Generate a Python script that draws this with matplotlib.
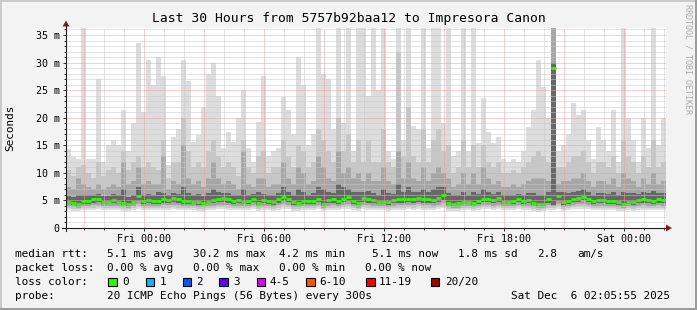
import matplotlib
matplotlib.use("Agg")
import matplotlib.pyplot as plt
import matplotlib.dates as mdates
from matplotlib.ticker import MultipleLocator, FuncFormatter
from matplotlib.patches import Polygon, Rectangle
from datetime import datetime, timedelta

# ---------------- data (15-minute bins, 30 hours) ----------------
start_time = datetime(2025, 12, 4, 20, 6)
bin_minutes = 15
n_bins = 120

median_ms = [4.8,4.6,4.4,4.9,4.9,5.2,5.3,4.8,4.8,5.1,
             4.8,4.6,4.4,4.8,5.8,4.9,5.0,4.9,4.9,5.2,
             5.1,5.4,5.2,4.9,4.9,4.8,4.7,4.6,4.8,5.0,
             5.3,5.4,5.2,4.9,5.0,4.8,4.9,5.3,4.6,5.0,
             4.9,4.7,5.2,5.6,5.3,4.7,4.6,4.9,4.9,4.9,
             5.3,4.4,5.1,5.2,4.9,5.3,5.6,4.9,4.5,5.4,
             5.2,5.0,4.8,4.8,4.7,5.0,5.2,5.2,5.3,5.2,
             5.5,5.2,5.2,5.1,5.4,5.9,4.6,4.4,4.5,4.8,
             4.8,4.6,4.9,5.3,5.3,5.1,5.4,4.8,4.8,4.9,
             5.3,4.9,5.0,4.6,4.3,4.4,5.2,29.0,5.8,4.7,
             4.9,5.3,5.5,5.7,5.3,4.9,5.1,5.1,4.9,4.9,
             4.7,4.4,4.8,4.7,5.1,5.2,5.1,4.9,5.2,5.0]

smoke_max = [14.4,12.9,12.5,37,12.5,12.5,27,12,15,16,
             15,21.4,14,19,33.5,21,30.5,26,31,27.5,
             11.5,16.5,18,30.5,26.6,15.6,16.8,22,28,30,
             24,14.5,17.5,15.6,20,25,14.5,12,19.3,27.5,
             13,14,14.5,23.8,21.4,17,31,26,15,17,
             37,28,27,18,37,19,37,14,37,37,
             24,37,25,37,14,12.5,37,16,37,18.5,
             18,37,14.5,37,37,19,37,13,14,37,
             14,37,15.5,23.5,17.5,15.5,16.5,12.5,12,12.5,
             12,14,18.3,21.4,30.5,25.6,20,37,14,15,
             17,22.6,20.5,21.4,16,12.5,18.3,16,14,21.4,
             12,37,20,16,12,20,14.5,37,15,20]

smoke_p90 = [10.5,9.5,11,11.5,10,9,12,9.5,10.5,11,
             10,14,10.5,12,13,11,12,11,10.5,16,
             9,12,12,20,14,11,12,11,14,16,
             13,11,12,11,9.5,16,11,10,13,14,
             10,11,11,16,13,11,15,14,11,12,
             18,16,14,12,20,14,17,12,16,12,
             16,12,12,18,12,11,32,13,22,13,
             12,18,12,16,18,14,15,10,11,16,
             11,15,11,15,12,11,12,10,10,10.5,
             10,11,12,13,14,13,12,37,11,11,
             12,13,13,14,12,10,12,12,11,13,
             10,16,13,12,10,13,11,16,11,12]

smoke_p75 = [7.5,7,9,8,7.5,7,8,7,7.5,8,
             7.5,12,8,8.5,11,8,8.5,8,8,13,
             7,8.5,8,15,9,8,8.5,7.5,9,12,
             9,8,8.5,8,7,14,8,7.5,9,9,
             7.5,8,8,12,9,8,11,10,8,8.5,
             13,11,9,8.5,14,10,11,9,10,8.5,
             10,8.5,8.5,11,8.5,8,14,9,12,9,
             8.5,11,8.5,10,11,10,9,7.5,8,10,
             8,10,8,11,9,8,8.5,7.5,7.5,8,
             7.5,8,8.5,9,9,9,8.5,37,8,8.5,
             8.5,9,9,10,8.5,7.5,8.5,8.5,8,9,
             7.5,10,9,8.5,7.5,9,8,10,8,8.5]

smoke_p60 = [5.8,5.6,6,6,5.9,6,6.2,5.8,5.8,6.2,
             5.9,7,5.6,6,7.5,6,6.2,6,6.5,6.3,
             6,6.3,6.2,7.5,6.3,6,6.2,5.8,6.3,7,
             6.5,6.4,6.3,6,6,7,6,6.2,6.5,6.2,
             6,6,6.3,7.5,6.5,6,7,6.5,6,6.3,
             7.5,7,6.5,6.3,8,7.5,7,6.5,6.5,6.5,
             6.8,6.3,6,7,6.3,6.2,8,6.5,7.5,6.5,
             6.5,7,6.5,7,7.5,7.5,6.3,6,6,6.5,
             6,6.5,6.2,7,6.5,6.2,6.5,6,6,6,
             6.2,6,6.3,6.3,6,6,6.5,30,6.5,6.5,
             6.3,6.5,6.7,7,6.5,6,6.3,6.3,6.2,6.5,
             6,6.5,6.3,6.3,6.2,6.5,6.3,6.8,6.3,6.3]

smoke_p40 = [4.3,4.1,4.0,4.4,4.4,4.6,4.7,4.3,4.3,4.5,
             4.3,4.1,4.0,4.3,4.9,4.4,4.5,4.4,4.4,4.6,
             4.6,4.7,4.6,4.4,4.4,4.3,4.2,4.1,4.3,4.5,
             4.7,4.7,4.6,4.4,4.5,4.3,4.4,4.7,4.1,4.5,
             4.4,4.2,4.6,4.9,4.7,4.2,4.1,4.4,4.4,4.4,
             4.7,4.0,4.5,4.6,4.4,4.7,4.9,4.4,4.1,4.8,
             4.6,4.5,4.3,4.3,4.2,4.5,4.6,4.6,4.7,4.6,
             4.8,4.6,4.6,4.5,4.8,5.1,4.1,4.0,4.1,4.3,
             4.3,4.1,4.4,4.7,4.7,4.5,4.8,4.3,4.3,4.4,
             4.7,4.4,4.5,4.1,3.9,4.0,4.6,4.2,4.9,4.2,
             4.4,4.7,4.8,5.0,4.7,4.4,4.5,4.5,4.4,4.4,
             4.2,4.0,4.3,4.2,4.5,4.6,4.5,4.4,4.6,4.5]

smoke_p25 = [3.9,3.8,3.7,3.9,4.0,4.1,4.2,3.9,3.9,4.0,
             3.9,3.8,3.7,3.9,4.3,4.0,4.0,4.0,3.9,4.1,
             4.1,4.2,4.1,4.0,3.9,3.9,3.8,3.8,3.9,4.0,
             4.2,4.2,4.1,4.0,4.0,3.9,3.9,4.2,3.8,4.0,
             4.0,3.8,4.1,4.3,4.2,3.8,3.8,3.9,4.0,3.9,
             4.2,3.7,4.0,4.1,3.9,4.2,4.3,3.9,3.7,4.2,
             4.1,4.0,3.9,3.9,3.8,4.0,4.1,4.1,4.2,4.1,
             4.3,4.1,4.1,4.0,4.2,4.5,3.8,3.7,3.7,3.9,
             3.9,3.8,3.9,4.2,4.2,4.0,4.2,3.9,3.9,3.9,
             4.2,3.9,4.0,3.8,3.6,3.7,4.1,3.9,4.3,3.8,
             3.9,4.2,4.3,4.4,4.2,3.9,4.0,4.0,3.9,3.9,
             3.8,3.7,3.9,3.8,4.0,4.1,4.0,3.9,4.1,4.0]

smoke_p10 = [3.6,3.5,3.4,3.6,3.6,3.7,3.8,3.6,3.6,3.7,
             3.6,3.5,3.4,3.6,3.9,3.6,3.7,3.6,3.6,3.7,
             3.7,3.8,3.7,3.6,3.6,3.6,3.5,3.5,3.6,3.7,
             3.8,3.8,3.7,3.6,3.7,3.6,3.6,3.8,3.5,3.7,
             3.6,3.5,3.7,3.9,3.8,3.5,3.5,3.6,3.6,3.6,
             3.8,3.4,3.7,3.7,3.6,3.8,3.9,3.6,3.4,3.8,
             3.7,3.7,3.6,3.6,3.5,3.7,3.7,3.7,3.8,3.7,
             3.9,3.7,3.7,3.7,3.8,4.0,3.5,3.4,3.4,3.6,
             3.6,3.5,3.6,3.8,3.8,3.7,3.8,3.6,3.6,3.6,
             3.8,3.6,3.7,3.5,3.3,3.4,3.7,3.6,3.9,3.5,
             3.6,3.8,3.9,3.9,3.8,3.6,3.7,3.7,3.6,3.6,
             3.5,3.4,3.6,3.5,3.7,3.7,3.7,3.6,3.7,3.7]

smoke_min = [3.2,3.1,3.0,3.2,3.2,3.3,3.4,3.2,3.2,3.3,
             3.2,3.1,3.0,3.2,3.5,3.2,3.3,3.2,3.2,3.3,
             3.3,3.4,3.3,3.2,3.2,3.2,3.1,3.1,3.2,3.3,
             3.4,3.4,3.3,3.2,3.3,3.2,3.2,3.4,3.1,3.3,
             3.2,3.1,3.3,3.5,3.4,3.1,3.1,3.2,3.2,3.2,
             3.4,3.0,3.3,3.3,3.2,3.4,3.5,3.2,3.0,3.4,
             3.3,3.3,3.2,3.2,3.1,3.3,3.3,3.3,3.4,3.3,
             3.5,3.3,3.3,3.3,3.4,3.6,3.1,3.0,3.0,3.2,
             3.2,3.1,3.2,3.4,3.4,3.3,3.4,3.2,3.2,3.2,
             3.4,3.2,3.3,3.1,2.9,3.0,3.3,3.2,3.5,3.1,
             3.2,3.4,3.5,3.5,3.4,3.2,3.3,3.3,3.2,3.2,
             3.1,3.0,3.2,3.1,3.3,3.3,3.3,3.2,3.3,3.3]

title = "Last 30 Hours from 5757b92baa12 to Impresora Canon"
legend_rtt = ["median rtt:", "5.1 ms avg", "30.2 ms max", "4.2 ms min",
              "5.1 ms now", "1.8 ms sd", "2.8", "am/s"]
legend_loss = ["packet loss:", "0.00 % avg", "0.00 % max", "0.00 % min", "0.00 % now"]
loss_labels = ["0", "1", "2", "3", "4-5", "6-10", "11-19", "20/20"]
loss_colors = ["#26ff00", "#00b8ff", "#0059ff", "#5e00ff", "#dd00ff",
               "#ff5500", "#ff0000", "#a00000"]
probe_text = "20 ICMP Echo Pings (56 Bytes) every 300s"
stamp_text = "Sat Dec  6 02:05:55 2025"

# ---------------- figure ----------------
MONO = "DejaVu Sans Mono"
W, H = 697, 310
fig = plt.figure(figsize=(W / 100, H / 100), dpi=100, facecolor="#f3f3f3")

px_left, px_right, px_top, px_bottom = 66, 666, 28, 228
ax = fig.add_axes([px_left / W, (H - px_bottom) / H,
                   (px_right - px_left) / W, (px_bottom - px_top) / H])
ax.set_facecolor("white")
for s in ax.spines.values():
    s.set_visible(False)

edges = mdates.date2num([start_time + timedelta(minutes=bin_minutes * i)
                         for i in range(n_bins + 1)])
ax.set_xlim(edges[0], edges[-1])
ymax = (px_bottom - px_top) / (27.57 / 5.0)
ax.set_ylim(0, ymax)

layers = [(smoke_min, smoke_max, "#dddddd"),
          (smoke_p10, smoke_p90, "#c6c6c6"),
          (smoke_p25, smoke_p75, "#a6a6a6"),
          (smoke_p40, smoke_p60, "#686868")]
for z, (lo, hi, col) in enumerate(layers):
    ax.stairs(hi, edges, baseline=lo, fill=True, color=col, lw=0, zorder=1 + z * 0.1)

# grid (drawn above smoke, like RRDtool)
dot = (0, (1, 1))
for v in range(1, 37):
    if v % 5:
        ax.axhline(v, color="#c8c8c8", lw=0.72, ls=dot, zorder=3)
for v in range(5, 37, 5):
    ax.axhline(v, color="#f2a0a0", lw=0.72, ls=dot, zorder=3.1)
hour_loc = mdates.HourLocator()
for t in hour_loc.tick_values(mdates.num2date(edges[0]), mdates.num2date(edges[-1])):
    if edges[0] < t < edges[-1]:
        hr = mdates.num2date(t).hour
        if hr % 3 == 0:
            ax.axvline(t, color="#f2a0a0", lw=0.72, ls=dot, zorder=3.1)
        else:
            ax.axvline(t, color="#c8c8c8", lw=0.72, ls=dot, zorder=3)

# median: horizontal step segments only (as SmokePing draws it)
ax.hlines(median_ms, edges[:-1], edges[1:], color="#26ff00", lw=2.0, zorder=5)

# ticks
ax.xaxis.set_major_locator(mdates.HourLocator(byhour=[0, 6, 12, 18]))
ax.xaxis.set_major_formatter(mdates.DateFormatter("%a %H:%M"))
ax.xaxis.set_minor_locator(mdates.HourLocator())
ax.yaxis.set_major_locator(MultipleLocator(5))
ax.yaxis.set_minor_locator(MultipleLocator(1))
ax.yaxis.set_major_formatter(FuncFormatter(lambda v, p: "0" if v == 0 else f"{int(round(v))} m"))
ax.tick_params(axis="both", which="major", length=2.5, width=0.7, color="#303030",
               labelsize=7.2, direction="out")
ax.tick_params(axis="both", which="minor", length=1.5, width=0.7, color="#303030",
               direction="out")
ax.tick_params(axis="y", pad=2.0)
ax.tick_params(axis="x", pad=1.6)
for lab in ax.get_xticklabels() + ax.get_yticklabels():
    lab.set_family(MONO)

# ---------------- overlay in pixel coordinates ----------------
ov = fig.add_axes([0, 0, 1, 1], zorder=10)
ov.set_xlim(0, W)
ov.set_ylim(H, 0)
ov.axis("off")
ov.patch.set_alpha(0)

# frame
ov.add_patch(Rectangle((0, 0), W, 2, color="#cbcbcb", lw=0))
ov.add_patch(Rectangle((0, 0), 2, H, color="#cbcbcb", lw=0))
ov.add_patch(Rectangle((0, H - 2), W, 2, color="#9c9c9c", lw=0))
ov.add_patch(Rectangle((W - 2, 0), 2, H, color="#9c9c9c", lw=0))

# axes lines and arrows
ov.plot([px_left, px_left], [px_bottom + 3, 24], color="#202020", lw=0.8)
ov.plot([62, 667], [px_bottom, px_bottom], color="#202020", lw=0.8)
ov.add_patch(Polygon([[px_left, 20.5], [px_left - 3.5, 26.5], [px_left + 3.5, 26.5]],
                     closed=True, color="#a01818", lw=0))
ov.add_patch(Polygon([[672, px_bottom], [666, px_bottom - 3.5], [666, px_bottom + 3.5]],
                     closed=True, color="#a01818", lw=0))

# title and y label
ov.text(348.5, 18.5, title, family=MONO, fontsize=9.4, ha="center", va="center")
ov.text(10.5, 128, "Seconds", family=MONO, fontsize=7.9, rotation=90,
        ha="center", va="center")

# watermark
ov.text(688, 4, "RRDTOOL / TOBI OETIKER", family=MONO, fontsize=6.0, color="#aaaaaa",
        rotation=270, ha="center", va="top")

# legend lines
cw = 6.62
x0 = 14.6
def put(col, y, s):
    ov.text(x0 + col * cw, y, s, family=MONO, fontsize=7.9, ha="left", va="center")

rtt_cols = [0, 14, 27, 40, 54, 67, 79, 85]
for c, s in zip(rtt_cols, legend_rtt):
    put(c, 254, s)
loss_cols = [0, 14, 27, 40, 53]
for c, s in zip(loss_cols, legend_loss):
    put(c, 268, s)
put(0, 282, "loss color:")
box_x = [108.3, 145.7, 182.7, 219.3, 256.7, 306.0, 366.0, 430.7]
lab_x = [122.0, 159.3, 196.3, 233.0, 269.3, 319.3, 378.6, 445.3]
for bx, lx, lab, col in zip(box_x, lab_x, loss_labels, loss_colors):
    ov.add_patch(Rectangle((bx, 277.5), 8.5, 8.5, facecolor=col, edgecolor="black", lw=0.8))
    ov.text(lx, 282, lab, family=MONO, fontsize=7.9, ha="left", va="center")
put(0, 296, "probe:")
put(14, 296, probe_text)
put(75, 296, stamp_text)

fig.savefig("out.png", dpi=100, facecolor=fig.get_facecolor())
